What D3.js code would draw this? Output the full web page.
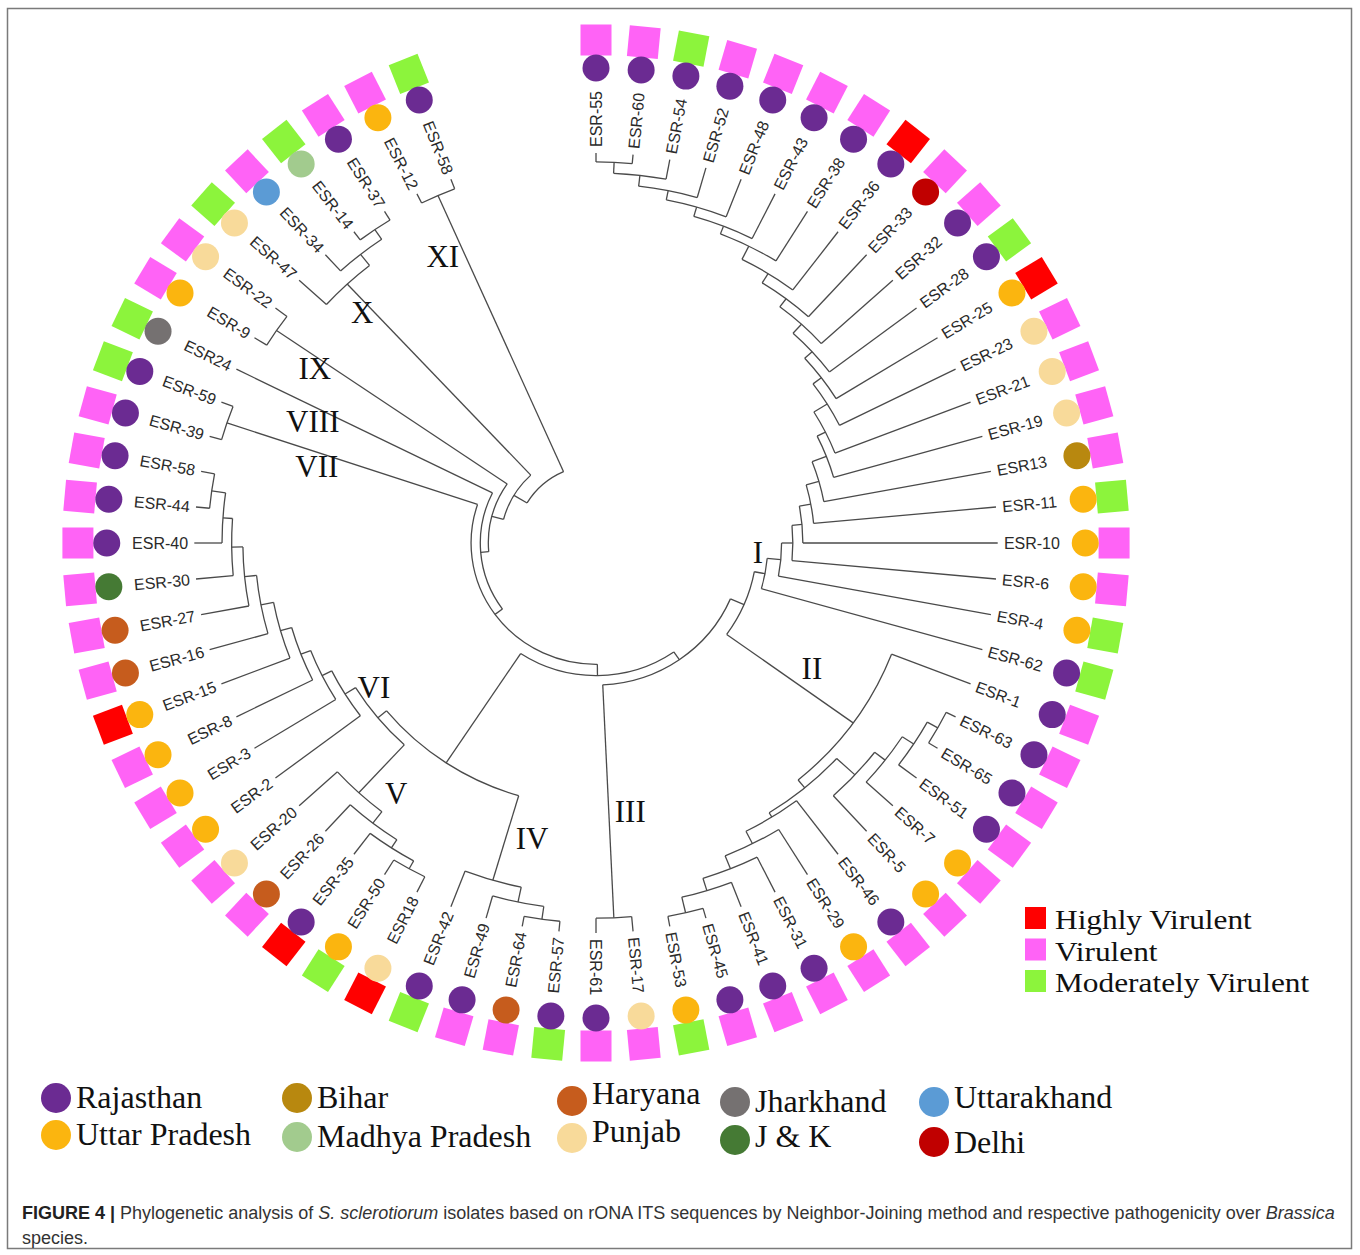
<!DOCTYPE html>
<html>
<head>
<meta charset="utf-8">
<script src="https://cdn.jsdelivr.net/npm/d3@7"></script>
<style>
	body { margin: 0; background: #fff; }
	svg { display: block; }
</style>
</head>
<body>
<svg id="chart" width="1360" height="1255"></svg>
<script>
	'use strict';

	// isolates, clockwise from the top of the circle
	var leafNames = ['ESR-55','ESR-60','ESR-54','ESR-52','ESR-48','ESR-43','ESR-38','ESR-36','ESR-33','ESR-32',
		'ESR-28','ESR-25','ESR-23','ESR-21','ESR-19','ESR13','ESR-11','ESR-10','ESR-6','ESR-4','ESR-62',
		'ESR-1','ESR-63','ESR-65','ESR-51','ESR-7','ESR-5','ESR-46','ESR-29','ESR-31','ESR-41','ESR-45','ESR-53',
		'ESR-17','ESR-61',
		'ESR-57','ESR-64','ESR-49','ESR-42',
		'ESR18','ESR-50','ESR-35','ESR-26','ESR-20',
		'ESR-2','ESR-3','ESR-8','ESR-15','ESR-16','ESR-27','ESR-30','ESR-40','ESR-44','ESR-58',
		'ESR-39','ESR-59','ESR24','ESR-9','ESR-22','ESR-47','ESR-34','ESR-14','ESR-37','ESR-12','ESR-58'];

	// origin of every isolate (same order as leafNames)
	var leafState = ['RJ','RJ','RJ','RJ','RJ','RJ','RJ','RJ','DL','RJ',
		'RJ','UP','PB','PB','PB','BR','UP','UP','UP','UP','RJ',
		'RJ','RJ','RJ','RJ','UP','UP','RJ','UP','RJ','RJ','RJ','UP',
		'PB','RJ',
		'RJ','HR','RJ','RJ',
		'PB','UP','RJ','HR','PB',
		'UP','UP','UP','UP','HR','HR','JK','RJ','RJ','RJ',
		'RJ','RJ','JH','UP','PB','PB','UK','MP','RJ','UP','RJ'];

	// pathogenicity: H highly virulent, V virulent, M moderately virulent
	var leafVirulence = ['V','V','M','V','V','V','V','H','V','V',
		'M','H','V','V','V','V','M','V','V','M','M',
		'V','V','V','V','V','V','V','V','V','V','V','M',
		'V','V',
		'M','V','V','M',
		'H','M','H','V','V',
		'V','V','V','H','V','V','V','V','V','V',
		'V','M','M','V','V','M','V','M','V','V','M'];

	var stateCodes = ['RJ','UP','BR','MP','HR','PB','JH','JK','UK','DL'];
	var stateNames = ['Rajasthan','Uttar Pradesh','Bihar','Madhya  Pradesh','Haryana','Punjab','Jharkhand','J & K','Uttarakhand','Delhi'];
	var stateColors = ['#6b2b92','#fbb50f','#b8880f','#a2cb8e','#c65c1d','#f8da9a','#757171','#457a34','#5b9bd5','#c00000'];

	var virulenceCodes = ['H','V','M'];
	var virulenceNames = ['Highly Virulent','Virulent','Moderately Virulent'];
	var virulenceColors = ['#ff0000','#ff63f6','#8cf43c'];

	var joinsI = [97.7, 94.9, 92.1, 89.7, 87.2, 85.1, 81.3, 78.5, 75.9, 72.8,
		70.3, 67.7, 63.8, 61.5, 57.7, 54.4, 51.5, 49.0, 46.2, 42.8];
	var joinsIIa = [97.4, 94.4, 91.0, 87.7];
	var joinsIIb = [97.4, 93.3, 90.0, 86.4, 82.8];
	var joinsII = [81.5, 78.9];
	var joinIII = 96.2;
	var joinsIV = [97.4, 94.1, 90.2];
	var joinsV = [95.6, 93.3, 90.8, 87.1];
	var joinsVI = [96.6, 93.1, 90.7, 87.9, 84.9, 81.7, 78.8, 76.2];
	var joinsIVtoVI = [73.5, 70.4, 67.6];
	var joinVII = 96.9;
	var joinIX = 96.4;
	var joinsX = [97.4, 94.4, 90.8];
	var joinXI = 97.4;
	var joinsBackbone = [40.1, 36.4, 34.0, 31.1, 28.8, 26.8, 23.8, 20.0];

	var cladeNames = ['I','II','III','IV','V','VI','VII','VIII','IX','X','XI'];

	// ---- layout
	var cx = 596, cy = 543, sx = 1.03;
	var slots = 68;
	var step = 360 / slots;
	var radius = d3.scaleLinear().domain([0, 100]).range([0, 390]);
	var rLabel = 396, rDot = 475, rBox = 503;
	// where each roman numeral sits: degrees off the clade stem and height on it
	var cladeLabelShift = [-7.0, -4.8, -4.4, -4.7, -4.9, -7.4, -2.8, -2.6, -1.9, -1.6, -3.6];
	var cladeLabelHeight = [40.4, 62.7, 69.5, 77.5, 81.2, 66.6, 72.2, 77.1, 83.0, 82.9, 82.8];
	// bottom legend: column x, dot y and text baseline per row (hand placed in the figure)
	var legColX = [56, 297, 572, 735, 934];
	var legDotY = [[1098, 1135], [1098, 1137], [1101, 1138], [1102, 1140], [1102, 1142]];
	var legTextY = [[1108, 1145], [1108, 1147], [1104, 1142], [1112, 1147], [1108, 1153]];

	function asNode(k) {
		return typeof k === 'string' ? {name: k, dist: 100} : k;
	}
	function join(dist, kids, clade) {
		return {dist: dist, children: kids.map(asNode), clade: clade};
	}
	// first two items pair up, the rest join one after the other
	function ladderFirst(items, dists, clade) {
		var t = join(dists[0], [items[0], items[1]]);
		for (var i = 2; i < items.length; i++) {
			t = join(dists[i - 1], [t, items[i]]);
		}
		t.clade = clade;
		return t;
	}
	// last two items pair up, the rest join backwards
	function ladderLast(items, dists, clade) {
		var n = items.length;
		var t = join(dists[0], [items[n - 2], items[n - 1]]);
		for (var i = n - 3; i >= 0; i--) {
			t = join(dists[n - 2 - i], [items[i], t]);
		}
		t.clade = clade;
		return t;
	}

	var cI = ladderFirst(leafNames.slice(0, 21), joinsI, 'I');
	var cII = join(joinsII[1], [leafNames[21], join(joinsII[0], [
		ladderFirst(leafNames.slice(22, 27), joinsIIa),
		ladderLast(leafNames.slice(27, 33), joinsIIb)])], 'II');
	var cIII = join(joinIII, leafNames.slice(33, 35), 'III');
	var cIV = ladderFirst(leafNames.slice(35, 39), joinsIV, 'IV');
	var cV = ladderFirst(leafNames.slice(39, 44), joinsV, 'V');
	var cVI = ladderLast(leafNames.slice(45, 54), joinsVI, 'VI');
	var cIVtoVI = join(joinsIVtoVI[2], [cIV, join(joinsIVtoVI[1], [cV, join(joinsIVtoVI[0], [leafNames[44], cVI])])]);
	var cVII = join(joinVII, leafNames.slice(54, 56), 'VII');
	var cVIII = {name: leafNames[56], dist: 100, clade: 'VIII'};
	var cIX = join(joinIX, leafNames.slice(57, 59), 'IX');
	var cX = ladderLast(leafNames.slice(59, 63), joinsX, 'X');
	var cXI = join(joinXI, leafNames.slice(63, 65), 'XI');
	var treeData = ladderFirst([cI, cII, cIII, cIVtoVI, cVII, cVIII, cIX, cX, cXI], joinsBackbone);

	var root = d3.hierarchy(treeData);
	d3.cluster().nodeSize([step, 1]).separation(function () { return 1; })(root);
	var leaves = root.leaves();
	var a0 = leaves[0].x;
	root.each(function (n) { n.angle = n.x - a0; });

	function pt(a, r) {
		var t = a * Math.PI / 180;
		return [cx + sx * r * Math.sin(t), cy - r * Math.cos(t)];
	}
	function dirDeg(a) {
		var t = a * Math.PI / 180;
		return Math.atan2(-Math.cos(t), sx * Math.sin(t)) * 180 / Math.PI;
	}

	var svg = d3.select('#chart');

	svg.append('rect')
		.attr('x', 7.5).attr('y', 8.5)
		.attr('width', 1344).attr('height', 1240)
		.attr('fill', 'none')
		.attr('stroke', '#7a7a7a')
		.attr('stroke-width', 1.5);

	var tree = svg.append('g')
		.attr('fill', 'none')
		.attr('stroke', '#4a4a4a')
		.attr('stroke-width', 1.3);

	// radial branches
	root.descendants().filter(function (n) { return n.parent; }).forEach(function (n) {
		var p0 = pt(n.angle, radius(n.parent.data.dist));
		var p1 = pt(n.angle, radius(n.data.dist));
		tree.append('path').attr('d', 'M' + p0 + 'L' + p1);
	});
	// arcs joining the children of every node
	root.descendants().filter(function (n) { return n.children; }).forEach(function (n) {
		var r = radius(n.data.dist);
		var first = n.children[0].angle, last = n.children[n.children.length - 1].angle;
		var p0 = pt(first, r), p1 = pt(last, r);
		tree.append('path').attr('d', 'M' + p0 + 'A' + (sx * r) + ',' + r + ' 0 ' +
			(last - first > 180 ? 1 : 0) + ' 1 ' + p1);
	});

	// tip labels
	svg.append('g').selectAll('text')
		.data(leaves)
		.join('text')
		.attr('font-family', 'Liberation Sans, Arial, sans-serif')
		.attr('font-size', 16)
		.attr('fill', '#2a2a2a')
		.attr('dy', '0.36em')
		.attr('text-anchor', function (d) { return d.angle > 180 ? 'end' : 'start'; })
		.attr('transform', function (d) {
			var p = pt(d.angle, rLabel);
			var rot = dirDeg(d.angle) + (d.angle > 180 ? 180 : 0);
			return 'translate(' + p + ') rotate(' + rot + ')';
		})
		.text(function (d) { return d.data.name; });

	// pathogenicity squares then origin dots
	var vColor = d3.scaleOrdinal().domain(virulenceCodes).range(virulenceColors);
	var sColor = d3.scaleOrdinal().domain(stateCodes).range(stateColors);

	svg.append('g').selectAll('rect')
		.data(leaves)
		.join('rect')
		.attr('x', -15.5).attr('y', -15.5)
		.attr('width', 31).attr('height', 31)
		.attr('fill', function (d, i) { return vColor(leafVirulence[i]); })
		.attr('transform', function (d) {
			return 'translate(' + pt(d.angle, rBox) + ') rotate(' + dirDeg(d.angle) + ')';
		});

	svg.append('g').selectAll('circle')
		.data(leaves)
		.join('circle')
		.attr('r', 13.5)
		.attr('fill', function (d, i) { return sColor(leafState[i]); })
		.attr('transform', function (d) { return 'translate(' + pt(d.angle, rDot) + ')'; });

	// clade numerals
	root.descendants().filter(function (n) { return n.data.clade; }).forEach(function (n) {
		var k = cladeNames.indexOf(n.data.clade);
		var p = pt(n.angle + cladeLabelShift[k], radius(cladeLabelHeight[k]));
		svg.append('text')
			.attr('x', p[0]).attr('y', p[1])
			.attr('dy', '0.33em')
			.attr('text-anchor', 'middle')
			.attr('font-family', 'Liberation Serif, Times New Roman, serif')
			.attr('font-size', 31)
			.attr('fill', '#111')
			.text(n.data.clade);
	});

	// pathogenicity legend
	var vLeg = svg.append('g').attr('transform', 'translate(1025,907)');
	virulenceNames.forEach(function (name, i) {
		vLeg.append('rect')
			.attr('x', 0).attr('y', i * 31.5)
			.attr('width', 21).attr('height', 22)
			.attr('fill', virulenceColors[i]);
		vLeg.append('text')
			.attr('transform', 'translate(30,' + (i * 31.5 + 22) + ') scale(1.14,1)')
			.attr('font-family', 'Liberation Serif, Times New Roman, serif')
			.attr('font-size', 27.5)
			.attr('fill', '#111')
			.text(name);
	});

	// origin legend, two rows
	stateNames.forEach(function (name, i) {
		var c = Math.floor(i / 2), r = i % 2;
		var x = legColX[c];
		svg.append('circle')
			.attr('cx', x).attr('cy', legDotY[c][r]).attr('r', 15)
			.attr('fill', stateColors[i]);
		svg.append('text')
			.attr('x', x + 20).attr('y', legTextY[c][r])
			.attr('font-family', 'Liberation Serif, Times New Roman, serif')
			.attr('font-size', 32)
			.attr('fill', '#111')
			.text(name);
	});

	// caption
	var cap = svg.append('text')
		.attr('x', 22).attr('y', 1219)
		.attr('font-family', 'Liberation Sans, Arial, sans-serif')
		.attr('font-size', 18)
		.attr('fill', '#333');
	cap.append('tspan').attr('font-weight', 'bold').attr('fill', '#222').text('FIGURE 4 | ');
	cap.append('tspan').text('Phylogenetic analysis of ');
	cap.append('tspan').attr('font-style', 'italic').text('S. sclerotiorum');
	cap.append('tspan').text(' isolates based on rONA ITS sequences by Neighbor-Joining method and respective pathogenicity over ');
	cap.append('tspan').attr('font-style', 'italic').text('Brassica');
	svg.append('text')
		.attr('x', 22).attr('y', 1244)
		.attr('font-family', 'Liberation Sans, Arial, sans-serif')
		.attr('font-size', 18)
		.attr('fill', '#333')
		.text('species.');
</script>
</body>
</html>
